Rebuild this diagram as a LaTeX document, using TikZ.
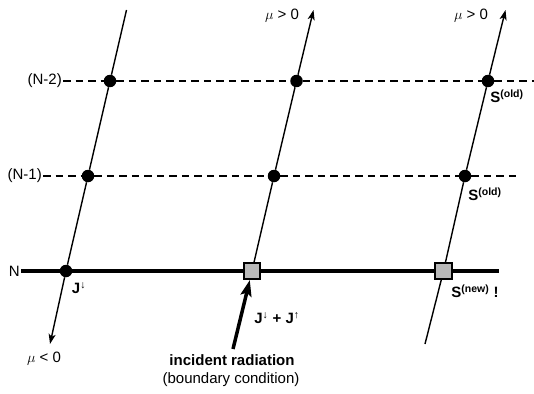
\documentclass[tikz,border=0pt]{standalone}
\usepackage{fontspec}
\setmainfont{Liberation Sans}
\usetikzlibrary{arrows.meta}
\begin{document}
\begin{tikzpicture}[
  x=1pt, y=-1pt,
  dot/.style={circle,fill=black,inner sep=0pt,minimum size=12.5pt},
  cell/.style={rectangle,draw=black,fill=gray!55,line width=1.6pt,inner sep=0pt,minimum size=16.5pt},
  lab/.style={inner sep=1pt,font=\fontsize{15}{18}\selectfont},
  blab/.style={inner sep=1pt,font=\fontsize{15}{18}\selectfont\bfseries},
  ray/.style={line width=1.4pt},
  level/.style={line width=1.3pt,dash pattern=on 7.5pt off 5pt},
  surface/.style={line width=3.5pt},
  tip/.style={-{Stealth[length=10pt,width=7pt,inset=2.5pt]}},
  bigtip/.style={line width=3.5pt,-{Stealth[length=16pt,width=11pt,inset=3pt]}}
]
  \useasboundingbox (0,0) rectangle (534,393);
  % depth labels
  \node[lab,anchor=east] (l2) at (63,81) {(N-2)};
  \node[lab,anchor=east] (l1) at (43,176) {(N-1)};
  \node[lab,anchor=east] (l0) at (21,271) {N};
  % grid points
  \node[dot] (a2) at (110,81) {};
  \node[dot] (a1) at (88,176) {};
  \node[dot] (a0) at (66,271) {};
  \node[dot] (b2) at (296.5,81) {};
  \node[dot] (b1) at (274,176) {};
  \node[cell] (b0) at (252,271) {};
  \node[dot] (c2) at (488,81) {};
  \node[dot] (c1) at (465,176) {};
  \node[cell] (c0) at (443.5,271) {};
  % ray ends
  \coordinate (at) at (126.5,10);
  \coordinate (ab) at (50,344);
  \coordinate (bt) at (313.5,10);
  \coordinate (ct) at (505.5,10);
  \coordinate (cb) at (425,344);
  \coordinate (e2) at (534,81);
  \coordinate (e1) at (516,176);
  \coordinate (e0) at (499,271);
  \coordinate (src) at (233,349);
  % levels
  \draw[level] (l2) -- (a2) -- (b2) -- (c2) -- (e2);
  \draw[level] (l1) -- (a1) -- (b1) -- (c1) -- (e1);
  \draw[surface] (l0) -- (a0) -- (b0) -- (c0) -- (e0);
  % rays
  \draw[ray] (at) -- (a2) -- (a1) -- (a0);
  \draw[ray,tip] (a0) -- (ab);
  \draw[ray,tip] (b0) -- (b1) -- (b2) -- (bt);
  \draw[ray] (cb) -- (c0) -- (c1) -- (c2);
  \draw[ray,tip] (c2) -- (ct);
  \draw[bigtip] (src) -- (b0);
  % texts
  \node[lab] (mu1) at (282,16) {$\mu$ > 0};
  \node[lab] (mu2) at (471,16) {$\mu$ > 0};
  \node[lab] (mu3) at (44,359) {$\mu$ < 0};
  \node[blab] (jd) at (79,288) {J\textsuperscript{\normalfont↓}};
  \node[blab] (jdu) at (277,318) {J\textsuperscript{\normalfont↓} + J\textsuperscript{\normalfont↑}};
  \node[blab] (so2) at (507,96) {S\textsuperscript{(old)}};
  \node[blab] (so1) at (485,194) {S\textsuperscript{(old)}};
  \node[blab] (sn) at (475,291) {S\textsuperscript{(new)} !};
  \node[blab] (inc) at (232,360) {incident radiation};
  \node[lab] (bc) at (231,380) {(boundary condition)};
\end{tikzpicture}
\end{document}
